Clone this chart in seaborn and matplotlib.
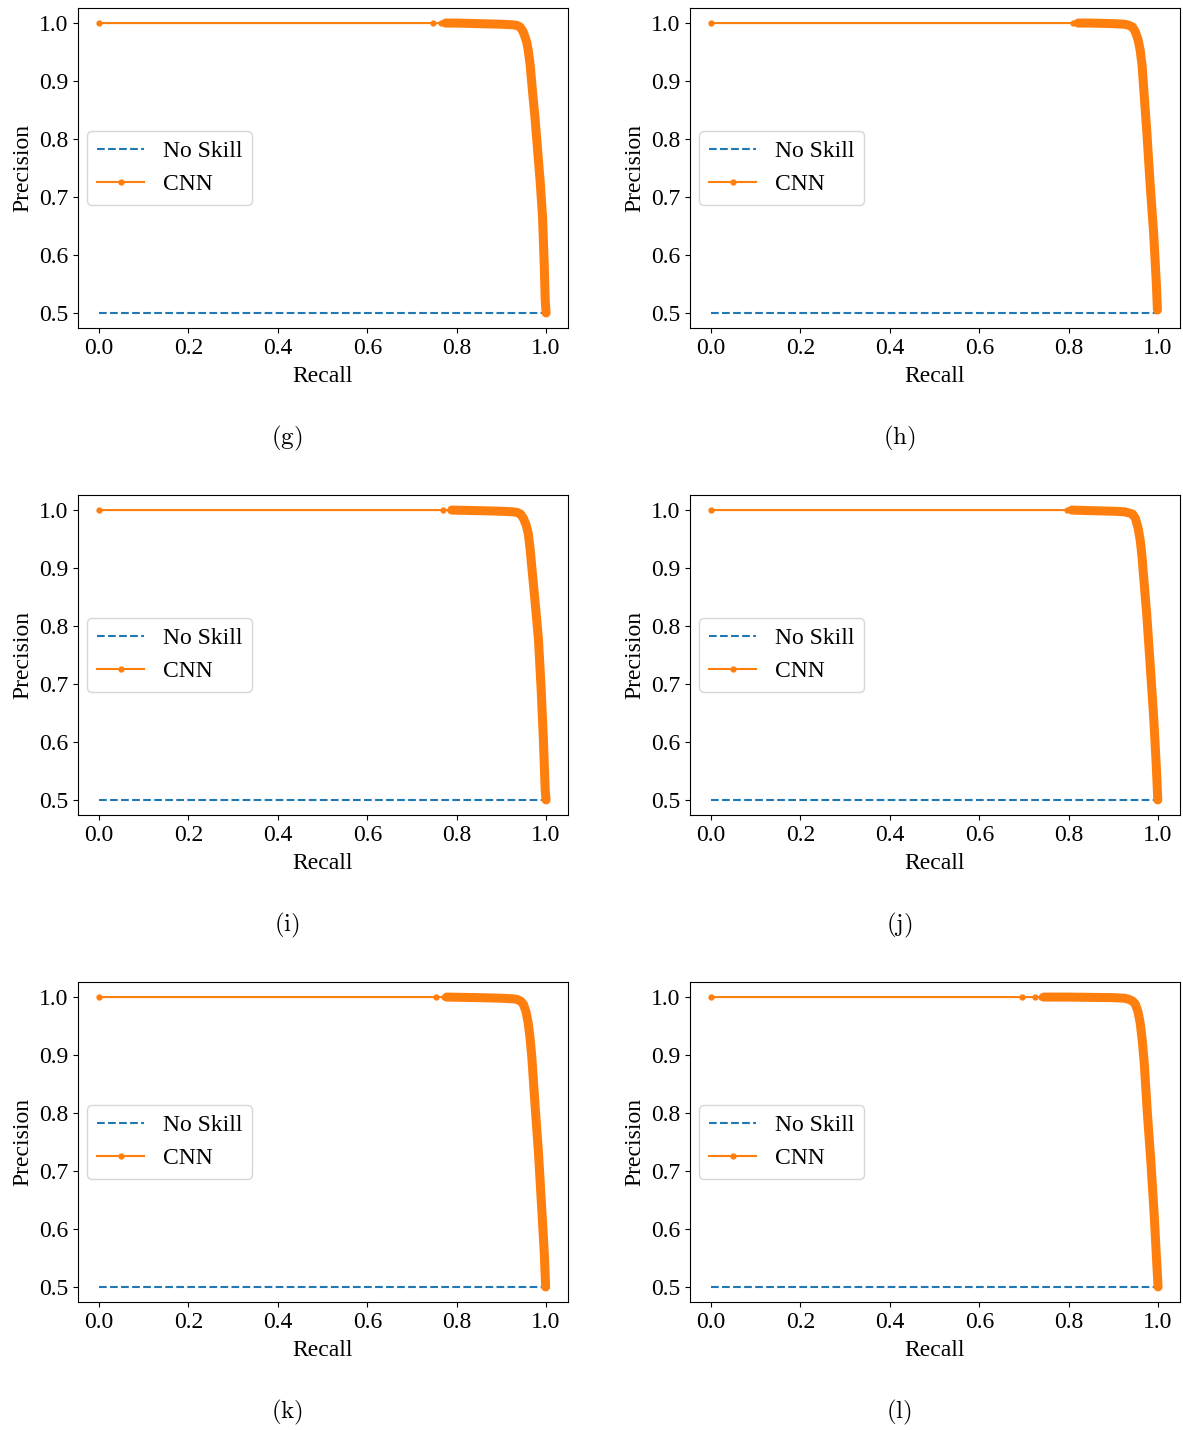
import matplotlib
matplotlib.use("Agg")
import matplotlib.pyplot as plt
import seaborn as sns

# Style: plain matplotlib look, serif text
plt.style.use('default')
plt.rcParams['font.family'] = ['Liberation Serif', 'DejaVu Serif']
plt.rcParams['mathtext.fontset'] = 'cm'
plt.rcParams['font.size'] = 17

BLUE = '#1f77b4'
ORANGE = '#ff7f0e'

# No-skill baseline (balanced classes)
no_skill_recall = [0.0, 1.0]
no_skill_precision = [0.5, 0.5]

captions = ['(g)', '(h)', '(i)', '(j)', '(k)', '(l)']

# CNN precision-recall curves
recall_g = [0.0, 0.746, 0.764, 0.775, 0.80, 0.85, 0.90, 0.925, 0.935, 0.942, 0.948, 0.953,
            0.957, 0.960, 0.964, 0.968, 0.975, 0.981, 0.987, 0.992, 0.996, 0.998, 1.0]
precision_g = [1.0, 1.0, 1.0, 1.0, 1.0, 0.999, 0.998, 0.997, 0.996, 0.993, 0.986, 0.976,
               0.966, 0.953, 0.930, 0.896, 0.838, 0.781, 0.724, 0.666, 0.580, 0.522, 0.50]

recall_h = [0.0, 0.810, 0.821, 0.85, 0.90, 0.925, 0.935, 0.943, 0.949, 0.955, 0.960, 0.964,
            0.967, 0.975, 0.982, 0.990, 0.996, 0.9985]
precision_h = [1.0, 1.0, 1.0, 1.0, 0.999, 0.998, 0.996, 0.993, 0.985, 0.972, 0.953, 0.928,
               0.896, 0.810, 0.724, 0.638, 0.552, 0.505]

recall_i = [0.0, 0.769, 0.784, 0.789, 0.85, 0.90, 0.925, 0.935, 0.943, 0.949, 0.955, 0.960,
            0.964, 0.968, 0.975, 0.983, 0.989, 0.994, 0.998, 1.0]
precision_i = [1.0, 1.0, 1.0, 1.0, 0.999, 0.998, 0.997, 0.996, 0.993, 0.986, 0.975, 0.960,
               0.935, 0.902, 0.845, 0.776, 0.690, 0.603, 0.517, 0.50]

recall_j = [0.0, 0.796, 0.807, 0.85, 0.90, 0.925, 0.935, 0.943, 0.949, 0.955, 0.960, 0.964,
            0.967, 0.975, 0.982, 0.990, 0.996, 0.9993]
precision_j = [1.0, 1.0, 1.0, 0.999, 0.998, 0.997, 0.995, 0.993, 0.986, 0.970, 0.948, 0.920,
               0.891, 0.816, 0.736, 0.644, 0.558, 0.50]

recall_k = [0.0, 0.753, 0.772, 0.778, 0.85, 0.90, 0.925, 0.935, 0.943, 0.949, 0.955, 0.960,
            0.964, 0.968, 0.975, 0.983, 0.990, 0.996, 0.999]
precision_k = [1.0, 1.0, 1.0, 1.0, 0.999, 0.998, 0.997, 0.996, 0.993, 0.988, 0.975, 0.955,
               0.930, 0.897, 0.817, 0.731, 0.638, 0.558, 0.50]

recall_l = [0.0, 0.695, 0.725, 0.738, 0.744, 0.80, 0.90, 0.925, 0.935, 0.943, 0.949, 0.955,
            0.960, 0.965, 0.969, 0.976, 0.984, 0.991, 0.997, 1.0]
precision_l = [1.0, 1.0, 1.0, 1.0, 1.0, 1.0, 0.999, 0.998, 0.996, 0.993, 0.988, 0.975,
               0.955, 0.922, 0.886, 0.800, 0.714, 0.628, 0.541, 0.50]

# recall where the thresholds become so dense that the markers merge into a band
dense_start = [0.775, 0.821, 0.789, 0.807, 0.778, 0.744]

curves = [(recall_g, precision_g), (recall_h, precision_h), (recall_i, precision_i),
          (recall_j, precision_j), (recall_k, precision_k), (recall_l, precision_l)]


def draw_panel(ax, recall, precision, dense_from):
    sns.lineplot(x=no_skill_recall, y=no_skill_precision, ax=ax, color=BLUE,
                 linestyle='--', linewidth=1.5, label='No Skill')
    sns.lineplot(x=recall, y=precision, ax=ax, color=ORANGE, sort=False,
                 estimator=None, linewidth=1.5, marker='.', markersize=7,
                 markeredgecolor=ORANGE, markeredgewidth=1, label='CNN')
    # dense tail of thresholds: drawn as a thick stroke
    dense = [(r, p) for r, p in zip(recall, precision) if r >= dense_from]
    sns.lineplot(x=[d[0] for d in dense], y=[d[1] for d in dense], ax=ax,
                 color=ORANGE, sort=False, estimator=None, linewidth=6.5,
                 solid_capstyle='round', solid_joinstyle='round', legend=False)
    ax.set_xlabel('Recall', labelpad=5)
    ax.set_ylabel('Precision', labelpad=4)
    ax.set_xticks([0.0, 0.2, 0.4, 0.6, 0.8, 1.0])
    ax.set_yticks([0.5, 0.6, 0.7, 0.8, 0.9, 1.0])
    ax.set_xlim(-0.047, 1.049)
    ax.set_ylim(0.474, 1.026)
    ax.legend(loc='center left', bbox_to_anchor=(0.0, 0.5), borderaxespad=0.4)


W, H = 1183, 1430
fig = plt.figure(figsize=(W / 100, H / 100), dpi=100)

lefts = [78, 690]
tops = [8, 495, 982]
ax_w, ax_h = 490, 320
cap_x = [287, 899]
cap_y = [438, 925, 1412]

for i, (recall, precision) in enumerate(curves):
    row, col = divmod(i, 2)
    ax = fig.add_axes([lefts[col] / W, 1 - (tops[row] + ax_h) / H, ax_w / W, ax_h / H])
    draw_panel(ax, recall, precision, dense_start[i])
    fig.text(cap_x[col] / W, 1 - cap_y[row] / H, r'$\mathrm{' + captions[i] + '}$',
             ha='center', va='center', fontsize=18)

fig.savefig('out.png', dpi=100)
